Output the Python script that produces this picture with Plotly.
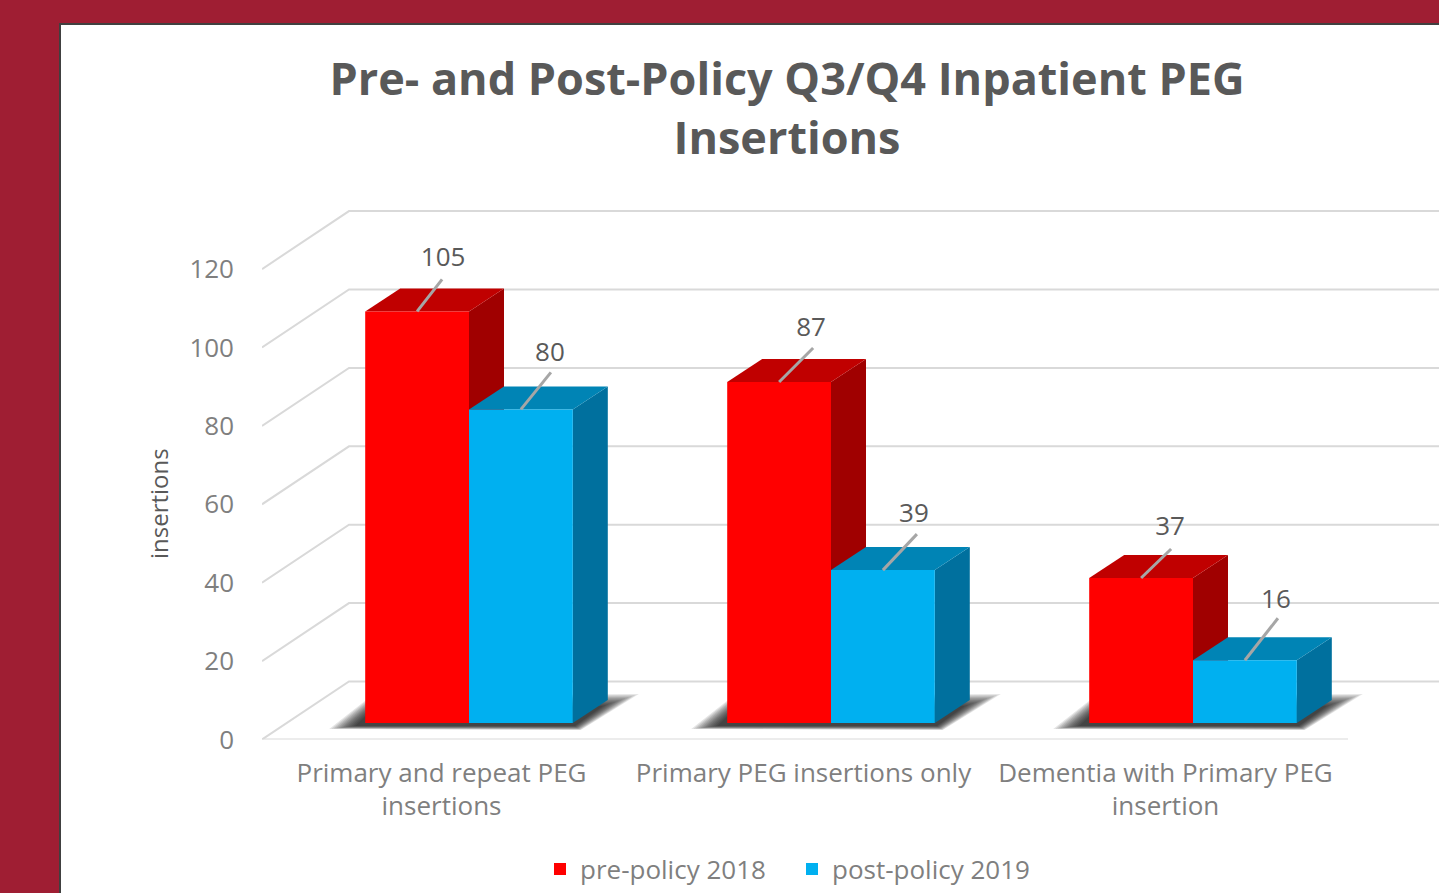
import plotly.graph_objects as go

# ---------- data ----------
categories = ["Primary and repeat PEG<br>insertions", "Primary PEG insertions only",
              "Dementia with Primary PEG<br>insertion"]
pre_policy_2018 = [105, 87, 37]
post_policy_2019 = [80, 39, 16]
y_ticks = [0, 20, 40, 60, 80, 100, 120]

# ---------- styling / geometry ----------
W, H = 1439, 893
PX_X, PX_Y = 362.0, 3.92          # pixels per x unit / per y unit
X0_PX, Y0_PX, TOP_PX = 262.0, 739.5, 200.0
ux = lambda p: p / PX_X
uy = lambda p: p / PX_Y
WALL_DX, WALL_DY = ux(87), uy(58)     # floor depth, front edge to wall
BAR_DX, BAR_DY = ux(35), uy(23)       # bar depth
BAR_W = ux(103.8)
BAR_SHIFT = ux(26)                    # bar pair centre vs tick
BAR_BASE = uy(16.5)                   # bars sit back from the floor's front edge
X_END = ux(W - X0_PX)
Y_END = uy(Y0_PX - TOP_PX)
FLOOR_END = 3.0
GRID = "#D9D9D9"
TXT_D, TXT_L = "#595959", "#7F7F7F"
FONT = "Open Sans"
RED, RED_TOP, RED_SIDE = "#FF0000", "#C00000", "#A00000"
BLUE, BLUE_TOP, BLUE_SIDE = "#00B0F0", "#0084B5", "#00709E"
MAROON = "#9F1E33"

# leader line end and label centre, relative to the bar's front-top centre, in pixels
LEADER = [[(25, 32), (30, 37)], [(34, 34), (34, 36)], [(30, 29), (33, 42)]]
LABEL = [[(26, 52), (29, 55)], [(32, 52), (31, 55)], [(29, 49), (31, 59)]]

fig = go.Figure()


def poly(xs, ys, color, opacity=1.0):
    fig.add_trace(go.Scatter(x=xs, y=ys, mode="lines", fill="toself", fillcolor=color,
                             line=dict(width=0), opacity=opacity, hoverinfo="skip",
                             showlegend=False, xaxis="x", yaxis="y"))


# walls and floor
gx, gy = [], []
for t in y_ticks:
    gx += [0, WALL_DX, X_END, None]
    gy += [t, t + WALL_DY, t + WALL_DY, None]
gx += [0, FLOOR_END]
gy += [0, 0]
fig.add_trace(go.Scatter(x=gx, y=gy, mode="lines", line=dict(color=GRID, width=2),
                         hoverinfo="skip", showlegend=False, xaxis="x", yaxis="y"))

centres = [i + 0.5 + BAR_SHIFT for i in range(len(categories))]

# soft floor shadows
N = 12
for c in centres:
    left, right = c - BAR_W, c + BAR_W
    for k in range(N):
        f = k / (N - 1)
        outer = [(-36, -6), (6, 27), (66, 29), (8, -7)]
        inner = [(-10, -3), (6, 12), (30, 17), (2, -3)]
        xs, ys = [], []
        for idx, (o, n) in enumerate(zip(outer, inner)):
            dx = o[0] + (n[0] - o[0]) * f
            dy = o[1] + (n[1] - o[1]) * f
            xs.append((left if idx in (0, 1) else right) + ux(dx))
            ys.append(BAR_BASE + uy(dy))
        poly(xs, ys, "#000000", 0.1)

# bar tops and sides
for c, a, b in zip(centres, pre_policy_2018, post_policy_2019):
    for (v, x0, top, side) in ((a, c - BAR_W, RED_TOP, RED_SIDE), (b, c, BLUE_TOP, BLUE_SIDE)):
        x1 = x0 + BAR_W
        y0 = BAR_BASE
        y1 = BAR_BASE + v
        poly([x1, x1 + BAR_DX, x1 + BAR_DX, x1], [y0, y0 + BAR_DY, y1 + BAR_DY, y1], side)
        poly([x0, x0 + BAR_DX, x1 + BAR_DX, x1], [y1, y1 + BAR_DY, y1 + BAR_DY, y1], top)

# front faces
fig.add_trace(go.Bar(name="pre-policy 2018", x=[c - BAR_W / 2 for c in centres], y=pre_policy_2018,
                     base=BAR_BASE, width=BAR_W, marker=dict(color=RED, line=dict(width=0)),
                     xaxis="x2", yaxis="y2", hoverinfo="y"))
fig.add_trace(go.Bar(name="post-policy 2019", x=[c + BAR_W / 2 for c in centres], y=post_policy_2019,
                     base=BAR_BASE, width=BAR_W, marker=dict(color=BLUE, line=dict(width=0)),
                     xaxis="x2", yaxis="y2", hoverinfo="y"))

# leader lines and data labels
lx, ly, tx, ty, tt = [], [], [], [], []
for i, c in enumerate(centres):
    for j, (v, cx) in enumerate(((pre_policy_2018[i], c - BAR_W / 2), (post_policy_2019[i], c + BAR_W / 2))):
        top = BAR_BASE + v
        lx += [cx, cx + ux(LEADER[i][j][0]), None]
        ly += [top, top + uy(LEADER[i][j][1]), None]
        tx.append(cx + ux(LABEL[i][j][0]))
        ty.append(top + uy(LABEL[i][j][1]))
        tt.append(str(v))
fig.add_trace(go.Scatter(x=lx, y=ly, mode="lines", line=dict(color="#A6A6A6", width=3),
                         hoverinfo="skip", showlegend=False, xaxis="x2", yaxis="y2"))
fig.add_trace(go.Scatter(x=tx, y=ty, mode="text", text=tt, textposition="middle center",
                         textfont=dict(family=FONT, size=26, color=TXT_D),
                         hoverinfo="skip", showlegend=False, xaxis="x2", yaxis="y2"))

x_dom = [X0_PX / W, 1.0]
y_dom = [(H - Y0_PX) / H, (H - TOP_PX) / H]
tick_pos = [i + 0.5 - ux(1.5) for i in range(len(categories))]
fig.update_layout(
    width=W, height=H, margin=dict(l=0, r=0, t=0, b=0, autoexpand=False),
    paper_bgcolor=MAROON, plot_bgcolor="rgba(0,0,0,0)",
    barmode="overlay", hovermode="closest",
    title=dict(text="Pre- and Post-Policy Q3/Q4 Inpatient PEG<br>Insertions",
               x=787 / W, xanchor="center", xref="paper",
               y=1 - 95 / H, yanchor="middle", yref="container",
               font=dict(family=FONT, size=45, color=TXT_D, weight="bold")),
    xaxis=dict(domain=x_dom, range=[0, X_END], tickvals=tick_pos, ticktext=categories,
               showgrid=False, zeroline=False, showline=False, ticks="", ticklabelstandoff=15,
               automargin=False, tickangle=0, tickfont=dict(family=FONT, size=26, color=TXT_L)),
    yaxis=dict(domain=y_dom, range=[0, Y_END], tickvals=y_ticks,
               showgrid=False, zeroline=False, showline=False, ticks="", ticklabelstandoff=27,
               automargin=False, tickfont=dict(family=FONT, size=26, color=TXT_L)),
    xaxis2=dict(domain=x_dom, range=[0, X_END], overlaying="x", anchor="y2", visible=False),
    yaxis2=dict(domain=y_dom, range=[0, Y_END], overlaying="y", anchor="x2", visible=False),
    legend=dict(orientation="h", x=540 / W, xanchor="left", y=1 - 869 / H, yanchor="middle",
                entrywidth=207, entrywidthmode="pixels",
                font=dict(family=FONT, size=26, color=TXT_L), bgcolor="rgba(0,0,0,0)"),
    annotations=[dict(text="insertions", textangle=-90, xref="paper", yref="paper",
                      x=159 / W, y=1 - 504 / H, xanchor="center", yanchor="middle", showarrow=False,
                      font=dict(family=FONT, size=24, color=TXT_D))],
    shapes=[dict(type="rect", xref="paper", yref="paper", x0=60 / W, x1=1.01, y0=-0.01, y1=1 - 24 / H,
                 fillcolor="#FFFFFF", line=dict(color="#404040", width=2), layer="below")],
)

fig.write_html("out.html", config=dict(displayModeBar=False),
               post_script="document.body.style.margin='0';document.body.style.overflow='hidden';")
